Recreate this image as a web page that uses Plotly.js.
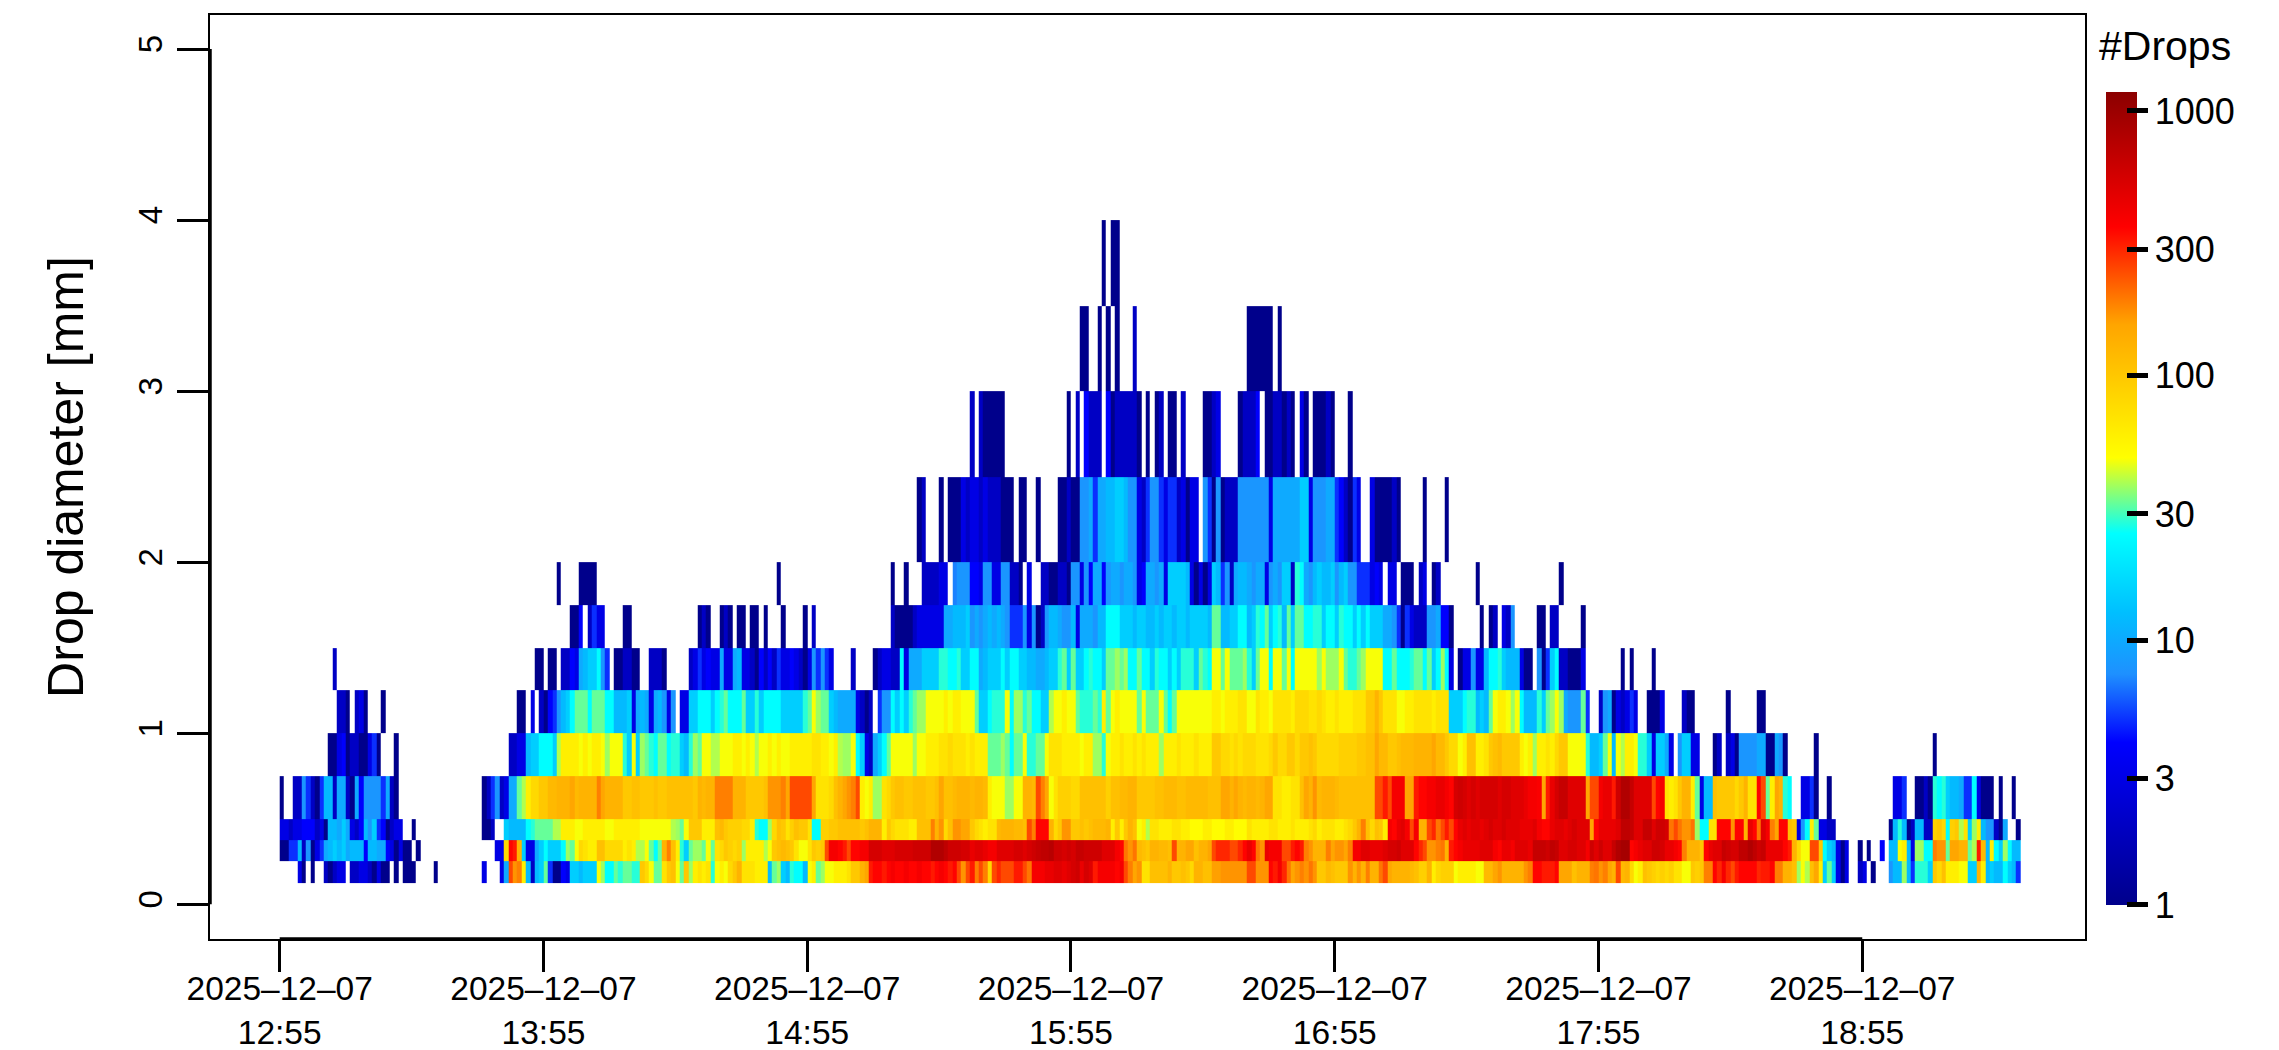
<!DOCTYPE html>
<html><head><meta charset="utf-8">
<script src="https://cdn.plot.ly/plotly-3.0.1.min.js"></script>
<style>html,body{margin:0;padding:0;background:#fff}</style></head>
<body><div id="chart" style="width:2279px;height:1050px"></div>
<script>
// Drop-size bin edges [mm]; one row of counts per bin, written as: column, [counts from that minute on]
const binEdges=[0.125,0.25,0.375,0.5,0.75,1,1.25,1.5,1.75,2,2.5,3,3.5,4];
const columnCount=396;
const tickMinutes=[0,60,120,180,240,300,360];
const tickDate='2025–12–07';
const tickTimes=['12:55','13:55','14:55','15:55','16:55','17:55','18:55'];
const yTicks=[0,1,2,3,4,5];
const barTicks=[1,3,10,30,100,300,1000];
const row0=[4,[3,1,0,1,0,0,2,1,2,3,3,0,2,2,3,3,2,1,3,1,1,0,1,0,1,1,1],35,[1],46,[3],50,[3,10,250,170,190,60,12,2,12,15,33,5,1,1,4,3,15,15,12,15,15,15,48,38,25,25,33,28,33,33,28,28,100,80,48,33,33,70,100,110,48,33,100,38,60,70,60,70,28,48,60,48,80,100,130,70,70,70,60,60,60,12,33,38],
114,[15,12,28,25,25,12,48,60,33,38,48,48,60,60,60,70,100,100,130,155,320,360,360,320,360,400,360,360,400,360,360,400,360,360,320,360,400,360,320,360,250,170,250,320,190,250,190,80,250,300,250,250,250,320,320,250,200,400,400,400,450,450,500,500,450,500,560,600,450,560,500,320,400,400,400,400,360,400,250,190,155,170,70,70,110,110,110,110,130,100,100,110,100,80,130,130,110,110,160,160,170,170,170,170,170,170,250,250,170,170,170,360,320,400,300,200,155,170],
232,[190,170,200,170,100,100,120,110,100,100,100,170,130,170,130,190,130,130,200,250,150,130,130,130,130,120,110,90,90,130,60,80,90,90,90,48,60,60,60,60,48,48,120,120,155,170,130,130,130,130,130,170,190,360,360,320,320,320,360,155,155,155,110,130,130,130,190,200,170,190,155,130,250,120,130,80,48,60,110,100,90,80,90,80,90,70,70,48,48,100,90,100,190,190,360,300,400,300,250,320,360,360,360,360,300,320,320,360,190,190,130,130,110,38],
346,[48,40,110,150,60,15,33,15,3,1,3],359,[2,3,0,1],366,[8,12,12,38,12,5,28,28,28,15,100,80,110,60,60,60,48,48,15,15,130,60,12,15,12,12,25,15,12,5]];
const row1=[0,[1,1,5,5,12,2,8,1,3,5,10,12,15,12,15,10,12,12,12,4,12,12,10,10,4,3,1,3,1,1],31,[1],49,[3,3,80,360,320,130,15,3,3,10,15,25,15,15,15,25,38,33,48,80,70,60,60,110,110,80,80,80,80,60,70,60,40,40,48,33,25,33,130,190,110,60,28,15,33,38,38,33,48,33,70,80,100,90,80,90,38,60,60,60,60,40,48,100,110],
114,[120,110,100,70,48,48,70,100,90,100,250,400,400,360,320,250,360,360,400,400,560,560,560,500,500,500,550,550,550,550,600,600,600,600,800,800,800,700,600,600,600,560,560,450,500,500,450,400,400,500,500,500,500,550,550,500,550,600,650,700,700,750,600,600,550,600,550,650,650,600,600,600,600,500,500,500,400,360,200,170,200,120,110,100,130,130,120,120,110,250,130,130,155,155,110,130,130,155,250,300,300,300,250,250,300,360,450,360,200,170,450,400,400,400,250,250,320,360],
232,[320,190,170,130,130,130,190,155,170,170,155,190,400,400,500,500,450,450,450,500,560,560,600,500,500,500,360,300,250,170,170,190,200,130,320,360,400,450,450,450,450,500,500,500,400,360,450,450,400,500,500,500,450,650,650,650,600,700,650,500,500,550,550,500,500,400,600,500,600,500,500,650,800,900,900,360,400,450,500,500,600,600,550,450,450,400,360,190,130,130,130,100,360,450,500,500,650,600,550,550,700,700,800,700,600,650,450,450,450,450,360,320,130,80],
346,[48,48,250,250,100,25,15,12,3,1,3],359,[1,0,1],364,[4],366,[12,12,48,60,12,3,38,38,25,25,190,170,170,33,155,155,130,130,33,40,320,120,12,60,25,15,38,25,12,12]];
const row2=[0,[3,3,2,3,3,4,4,4,2,3,1,12,12,10,15,10,3,2,4,12,8,15,5,4,1,2,3,3],30,[1],46,[1,1,2],51,[15,12,12,12,12,25,28,33,33,33,33,40,40,60,60,60,48,48,60,60,60,60,60,48,48,60,60,60,60,60,60,48,48,48,48,48,48,48,40,38,33,48,100,100,100,60,60,60,110,120,100,90,90,90,80,80,60,28,25,25,38,80,110],
114,[100,70,90,110,100,100,70,25,25,90,90,100,100,110,110,110,110,110,100,110,130,130,130,60,100,80,70,70,70,60,60,110,110,110,190,130,170,80,110,170,170,155,155,100,80,70,60,70,70,120,130,130,130,120,120,110,250,190,360,360,360,130,80,100,170,170,100,100,110,100,110,120,120,120,130,60,100,60,100,130,110,48,60,40,70,70,60,60,60,70,70,60,60,50,50,50,60,60,50,50,50,60,60,50,50,50,70,60,60,60,60,70,70,60],228,[60,60,70,60],
232,[60,60,70,80,60,70,70,70,60,60,70,80,100,130,190,110,80,110,100,60,400,360,450,500,400,250,400,130,130,250,300,200,250,320,250,360,450,500,450,500,500,450,500,560,500,500,560,500,500,500,450,450,450,500,400,360,360,450,500,500,450,500,560,500,500,500,155,360,450,450,450,450,500,700,700,650,500,500,650,650,500,600,600,560,200,250,200,170,170,200,38,25,25,70,70,360,360,360,170,360,360,130,450,360,200,500,400,190,155,360,360,110,100,20],
345,[3,8,25,60,33,3,3,2,2],366,[1,12,28,12,1,2,12,12,2,2,90,100,80,25,90,100,40,70,15,38,60,12,8,8,2,1,10],395,[1]];
const row3=[0,[1],3,[2,2,8,5,2,1,5,12,12,2,10,10,2,1,10,4,8,8,8,8,5,10,2,1],46,[1,2,5,8,2,3,10,10,33,40,60,80,80,100,100,120,120,130,130,130,155,120,130,130,130,130,190,155,130,130,130,130,100,100,110,110,100,100,100,110,100,100,110,110,110,110,110,110,100,130,120,130,130,190,190,190,190,130,130,130,100,100,100,100,110,170,170,170],
114,[190,155,250,250,250,250,250,155,70,70,70,80,110,130,155,170,190,250,60,48,60,38,38,70,80,100,110,110,100,100,110,110,110,100,100,110,155,110,110,120,130,130,130,120,130,130,120,60,48,48,48,38,38,48,48,130,130,120,250,190,155,48,70,90,90,90,80,80,110,110,110,110,110,110,90,110,110,120,120,130,130,100,100,100,100,110,110,120,120,120,110,110,120,120,120,120,120,110,110,110,155,155,130,155,130,120,130,130,120,130,155,155,70,70,60,60,70,70],
232,[110,155,130,170,120,130,130,130,120,110,110,110,110,110,110,110,110,250,250,320,250,400,400,400,155,155,320,360,360,400,400,450,450,400,360,560,600,560,500,560,500,560,560,560,560,500,560,560,500,500,500,450,400,400,380,155,320,450,560,650,650,500,500,500,500,155,250,250,400,450,450,320,600,800,800,650,500,500,500,500,250,360,400,70,60,70,100,130,130,60,33,3,12,12,110,100,100,100,100,80,100,130,70,70,360,250,33,60,155,130,28,25],
346,[3,3,5,1],352,[1],367,[3,3,5],372,[1,1,2,1,28,25,28,15,12,12,10,5,5,25,3,1,1,1],391,[1],394,[1]];
const row4=[11,[1,1,3,4,1,2,2,1,1,3,5,1],26,[1],52,[2,2,3,3,12,15,15,25,25,25,15,40,60,60,60,60,48,60,48,60,60,48,38,48,48,48,28,15,48,15,38,33,28,25,33,33,25,28,28,15,12,28,38,33,48,48,40,40,48,48,48,60,60,48,60,48,40,48,48,60,48,60],
114,[48,48,60,60,60,60,60,70,70,60,60,48,60,40,38,38,48,25,15,3,2,10,15,25,33,48,48,48,48,48,38,48,48,60,60,60,70,70,80,70,70,70,60,70,60,60,60,33,33,33,38,33,25,33,33,48,28,28,33,33,48,70,70,70,60,60,60,60,48,60,60,38,38,28,48,60,60,70,60,60,70,60,70,60,60,60,38,60,60,60,70,60,60,60,70,60,60,60,100,100,80,80,70,80,70,80,80,80,70,70,70,80,100,80,80,100,100,80],
232,[100,100,110,100,80,80,80,80,80,90,90,90,90,100,100,110,110,155,120,120,100,100,110,120,120,120,130,130,130,130,155,120,120,100,80,80,48,60,110,110,60,60,70,100,110,120,100,100,100,100,60,48,60,38,60,60,70,60,80,100,100,48,48,48,48,28,12,12,15,33,48,12,48,40,60,60,48,28,28,15,3,15,15,10,3],
318,[8,15,15,3,3],326,[1,2],329,[2,3,1,8,8,8,8,10,10,1,1,10,8,1],349,[1],376,[1]];
const row5=[13,[2,2,1],17,[2,3,1],23,[1],54,[1,1],57,[3],59,[2,1,4,5,8,12,15,25,33,33,33,25,33,33,33,25,25,12,12,12,15,3,10,12,10,3,10,12,8,3,8],91,[3,3,15,15,25,25,25,15,25,28,33,25,25,25,33,15,15,28,15,25,25,25,25],
114,[15,15,15,15,15,28,33,48,38,33,33,15,12,10,10,10,10,3,2,1,2],136,[5,8,8,25,15,25,15,28,33,38,38,48,48,48,48,60,48,60,60,48,48,48,33,15,15,25,28,28,28,48,25,38,38,28,33,25,25,15,15,40,48,48,60,48,48,33,28,28,28,33,28,60,33,48,60,48,48,48,48,33,48,33,33,33,48,33,25,33,48,48,48,48,48,48,48,48,60,60,48,60,60,60,70,70,48,48,70,60,60,48,70,70,70,70,60,80],
232,[80,80,70,70,80,70,60,60,70,60,60,60,70,70,70,100,100,130,100,70,70,70,48,48,60,60,70,70,70,70,60,70,70,70,15,15,15,25,28,28,12,15,12,33,48,60,60,48,38,48,25,12,12,12,28,15,33,38,48,38,10,8,8,8,33,5],
300,[2,8,10,1,3,2,3,5,3],311,[1,1,1,3],319,[2,1,1],329,[1],336,[1,1]];
const row6=[12,[2],58,[1,1],61,[1,1],64,[2,2,4,3,10,12,15,15,25,8,5],76,[1,1,2,2,1,1],84,[2,2,2,1],93,[2,3,5,3,4,3,3,10,3,3,10,12,3,3,2,1,4,2,4,2,5],
114,[3,3,4,3,2,1,3,8,5,8,5,3],130,[2],135,[1,2,3,3,2,2,25,3,10,10,10,15,15,15,15,28,28,25,25,28,15,15,25,25,10,12,15,15,15,25,15,25,25,15,15,12,12,10,10,12,15,15,28,33,15,33,15,15,25,28,25,25,15,33,33,38,33,38,25,25,33,25,25,15,28,25,25,15,25,15,28,28,28,15,33,28,25,48,48,33,48,33,33,33,38,28,15,33,48,48,25,48,48,33,48,25,48],
232,[48,48,48,48,38,48,38,38,38,48,33,28,28,33,38,48,48,48,48,25,25,33,25,25,25,28,33,33,25,33,15,25,38,25,3],268,[1,3,3,8,3,3,12,25,25,28,15,12,12,12,3,1,1],286,[8,1,5,15,25,2,2,1,1,1,3],305,[1],307,[1],312,[1]];
const row7=[66,[1,1,4,0,2,5,3,3],78,[1,1],95,[1,2,1],100,[1,2,1],104,[1,1],107,[1,1],110,[1],114,[1],119,[1],121,[2],139,[2,1,1,1,1,2,3,3,3,3,3,3,10,10,12,12,12,15,8,10,8,10,12,10,12,10,8,5,5,5,8,3,8,1,2,8,12,12,10,8,8,12,3,10,10,10,8,12,12,25,25,25,15,15,15,12,15,15,12,12,15,12,15,15,12,15,15,12,15,15,15,15,12,33,33,12,12,15,15,25,25,12,15,28,25,33,15,25,28,12,33,15,33],
232,[33,25,25,28,28,15,25,25,15,28,25,25,15,25,15,25,15,15,15,10,10,8,5,1,5,3,2,2,2,8,8,10,4,4,1],273,[1],275,[1,2],278,[3,2,8],286,[1,1],289,[2,2],296,[1]];
const row8=[63,[1],68,[1,1,1,1],113,[1],139,[1],142,[1],146,[2,2,2,2,3,3,0,7,8,8,8,4,4,3,8,8,3,3,8,8,2,2,1],170,[3],173,[2,2,1,1,2,2,1,8,8,3,8,4,10,10,4,8,10,10,8,10,10,8,3,4,10,10,8,10,3,15,15,15,15,12,3,1,3,1,3,15,12,5,8,2,10,12,12,10,8,10,10,3,8,10,8,15,15,2,28],
232,[25,10,8,12,15,12,12,15,8,12,15,8,8,5,5,5,3,4,3],252,[3,3],255,[1,1,1],259,[2,3],262,[1,2],272,[1],291,[1]];
const row9=[145,[1,2],150,[1],152,[1,1,1,3,2,3,3,2,3,2,2,2,1,1,1],168,[1,1],172,[1],177,[1,1,2,1,1,8,8,10,5,10,10,12,12,15,15,12,8,8,3,2,5,8,8,5,3,5,5,2,3,1,3,3],210,[8,5,1,8,1,2,2,2,8,8,8,8,8,8,8,3,10,10,10,10,10,10],
232,[15,15,3,8,8,8,10,10,5,4,2,1,5,3],248,[3,1,1,1,1,2,1],260,[1],265,[1]];
const row10=[157,[2],159,[2,1,1,1,1,1],179,[1],181,[2],183,[4,2,2,2],188,[4,1,2,2,2,2,2,1],197,[1],199,[1,2],202,[1,1],205,[2],210,[1,1,2,3],218,[1,2,2,2,4],224,[1,1,2,2,1,2,1],232,[3,1],235,[1,1,1,2,1],243,[1]];
const row11=[182,[1,1],186,[1],188,[1],190,[1],194,[2],220,[1,1,1,1,1,1],227,[1]];
const row12=[187,[1],189,[1,1]];
const rows=[row0,row1,row2,row3,row4,row5,row6,row7,row8,row9,row10,row11,row12];

const colTop=1180, logTop=Math.log10(colTop);
const minuteEdges=Array.from({length:columnCount+1},(_,i)=>i);
const z=rows.map(r=>{
  const a=new Array(columnCount).fill(null);
  for(let k=0;k<r.length;k+=2){ r[k+1].forEach((v,j)=>{ if(v>0&&r[k]+j<columnCount) a[r[k]+j]=Math.log10(v); }); }
  return a;
});
const jet=[[0,'#00008b'],[0.2,'#0000ff'],[0.284,'#1e90ff'],[0.36,'#00bfff'],[0.457,'#00ffff'],[0.55,'#ffff00'],[0.623,'#ffd700'],[0.714,'#ffa500'],[0.834,'#ff0000'],[1,'#8b0000']];
const font='"Liberation Sans",Arial,sans-serif';
const W=2279,H=1050,L=210,R=2085,T=14.7,B=939;
const barTop=92,barBot=904.5;
const traces=[
 {type:'heatmap',x:minuteEdges,y:binEdges,z:z,zmin:0,zmax:logTop,colorscale:jet,hoverongaps:false,
  colorbar:{x:(2106-L)/(R-L),xanchor:'left',xpad:0,thickness:31,lenmode:'pixels',len:barBot-barTop,
   y:(B-(barTop+barBot)/2)/(B-T),yanchor:'middle',ypad:0,outlinewidth:0,
   tickmode:'array',tickvals:barTicks.map(v=>Math.log10(v)),ticktext:barTicks.map(String),
   ticks:'outside',ticklen:11,tickwidth:5,tickcolor:'#000',tickfont:{family:font,size:36,color:'#000'}}},
 // transparent second scale: only carries the part of each tick that runs into the bar
 {type:'heatmap',x:[0,1],y:[0,1],z:[[0]],zmin:0,zmax:logTop,hoverinfo:'skip',
  colorscale:[[0,'rgba(0,0,0,0)'],[1,'rgba(0,0,0,0)']],
  colorbar:{x:(2126-L)/(R-L),xanchor:'left',xpad:0,thickness:1,lenmode:'pixels',len:barBot-barTop,
   y:(B-(barTop+barBot)/2)/(B-T),yanchor:'middle',ypad:0,outlinewidth:0,
   tickmode:'array',tickvals:barTicks.map(v=>Math.log10(v)),ticktext:barTicks.map(()=>''),
   ticks:'outside',ticklen:21,tickwidth:5,tickcolor:'#000'}}
];
const layout={width:W,height:H,paper_bgcolor:'#fff',plot_bgcolor:'#fff',showlegend:false,
 margin:{l:L,r:W-R,t:T,b:H-B,pad:0,autoexpand:false},
 font:{family:font,color:'#000'},
 xaxis:{range:[-15.86,410.67],showgrid:false,zeroline:false,mirror:true,showline:true,linecolor:'#000',linewidth:2,
  tickmode:'array',tickvals:tickMinutes,ticktext:tickTimes.map(t=>tickDate+'<br>'+t),ticklabelstandoff:-12,
  ticks:'outside',ticklen:31,tickwidth:3,tickcolor:'#000',tickangle:0,tickfont:{family:font,size:33.5,color:'#000'}},
 yaxis:{range:[-0.2028,5.199],showgrid:false,zeroline:false,mirror:true,showline:true,linecolor:'#000',linewidth:2,
  tickmode:'array',tickvals:yTicks,ticktext:yTicks.map(String),ticklabelstandoff:2,
  ticks:'outside',ticklen:31,tickwidth:3,tickcolor:'#000',tickangle:-90,tickfont:{family:font,size:33,color:'#000'},
  title:{text:'Drop diameter [mm]',font:{family:font,size:50,color:'#000'},standoff:32}},
 // heavier axis segment between the first and the last tick, as in the base-graphics axis
 shapes:[
  {type:'line',xref:'x',yref:'paper',x0:tickMinutes[0],x1:tickMinutes[tickMinutes.length-1],y0:0,y1:0,line:{color:'#000',width:3.5}},
  {type:'line',xref:'paper',yref:'y',x0:0,x1:0,y0:yTicks[0],y1:yTicks[yTicks.length-1],line:{color:'#000',width:3.5}}
 ],
 annotations:[{xref:'paper',yref:'paper',x:(2097-L)/(R-L),y:(B-46)/(B-T),xanchor:'left',yanchor:'middle',showarrow:false,
  text:'#Drops',font:{family:font,size:41,color:'#000'}}]
};
Plotly.newPlot('chart',traces,layout,{displayModeBar:false,responsive:false});
</script></body></html>
